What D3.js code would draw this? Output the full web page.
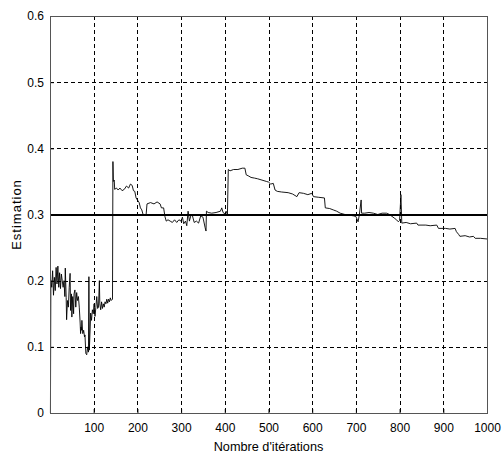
<!DOCTYPE html>
<html>
<head>
<meta charset="utf-8">
<script src="https://cdn.jsdelivr.net/npm/d3@7"></script>
<style>
  body { margin: 0; background: #fff; }
  text { font-family: "Liberation Sans", Arial, sans-serif; fill: #000; }
</style>
</head>
<body>
<div id="container"></div>
<script>
const width = 502;
const height = 457;
const margin = { t: 16, r: 15, b: 44, l: 50 };

// values
const iterations = [
  1, 2, 4, 6, 8, 10, 12, 14, 16, 18, 20, 22, 24, 26, 28, 30, 32, 34, 35, 37,
  38, 40, 42, 44, 46, 47, 49, 50, 52, 54, 55, 57, 59, 61, 63, 65, 67, 69, 70, 71,
  72, 73, 75, 77, 79, 80, 82, 84, 86, 88, 89, 90, 92, 93, 95, 97, 99, 101, 103, 105,
  107, 109, 111, 113, 114, 116, 118, 120, 122, 124, 126, 128, 130, 132, 134, 136, 138, 140, 143, 144,
  145, 147, 148, 152, 156, 160, 165, 170, 175, 180, 184, 188, 191, 194, 197, 200, 204, 207, 210, 213,
  220, 222, 230, 238, 245, 252, 255, 260, 263, 266, 270, 275, 280, 285, 290, 295, 300, 303, 306, 310,
  313, 316, 319, 323, 326, 330, 335, 340, 345, 350, 355, 357, 358, 362, 370, 380, 390, 393, 396, 400,
  403, 406, 408, 412, 420, 430, 440, 446, 449, 455, 460, 468, 475, 485, 495, 500, 505, 511, 515, 520,
  530, 545, 555, 565, 570, 580, 590, 599, 603, 615, 628, 630, 640, 648, 656, 664, 675, 685, 694, 700,
  705, 708, 712, 713, 720, 730, 740, 750, 760, 770, 777, 785, 789, 793, 797, 800, 803, 805, 815, 825,
  839, 842, 860, 870, 885, 889, 905, 915, 927, 930, 935, 938, 950, 960, 969, 973, 985, 1000
];
const estimates = [
  0, 0.2, 0.19, 0.215, 0.178, 0.205, 0.185, 0.22, 0.195, 0.222, 0.19, 0.212, 0.188, 0.21, 0.2, 0.19, 0.2, 0.176, 0.219, 0.175,
  0.141, 0.17, 0.16, 0.19, 0.211, 0.155, 0.18, 0.145, 0.176, 0.15, 0.18, 0.186, 0.16, 0.182, 0.17, 0.176, 0.16, 0.136, 0.12, 0.13,
  0.125, 0.14, 0.12, 0.125, 0.115, 0.118, 0.09, 0.088, 0.1, 0.092, 0.206, 0.095, 0.13, 0.151, 0.14, 0.156, 0.15, 0.165, 0.146, 0.16,
  0.176, 0.158, 0.16, 0.2, 0.165, 0.156, 0.168, 0.158, 0.165, 0.16, 0.168, 0.165, 0.172, 0.166, 0.172, 0.168, 0.174, 0.17, 0.172, 0.38,
  0.35, 0.352, 0.338, 0.34, 0.337, 0.34, 0.336, 0.338, 0.343, 0.34, 0.346, 0.344, 0.336, 0.335, 0.325, 0.322, 0.318, 0.31, 0.307, 0.3,
  0.3, 0.316, 0.318, 0.316, 0.319, 0.316, 0.31, 0.31, 0.297, 0.29, 0.292, 0.29, 0.288, 0.292, 0.288, 0.292, 0.29, 0.296, 0.286, 0.29,
  0.283, 0.305, 0.29, 0.3, 0.298, 0.288, 0.29, 0.287, 0.298, 0.296, 0.28, 0.275, 0.305, 0.303, 0.302, 0.303, 0.305, 0.31, 0.303, 0.301,
  0.305, 0.3, 0.368, 0.366, 0.368, 0.368, 0.37, 0.37, 0.36, 0.358, 0.356, 0.355, 0.354, 0.352, 0.35, 0.349, 0.346, 0.347, 0.337, 0.335,
  0.334, 0.333, 0.331, 0.327, 0.333, 0.332, 0.33, 0.332, 0.327, 0.326, 0.325, 0.31, 0.309, 0.307, 0.305, 0.302, 0.3, 0.299, 0.298, 0.297,
  0.289, 0.3, 0.322, 0.302, 0.302, 0.303, 0.302, 0.3, 0.302, 0.302, 0.3, 0.296, 0.294, 0.292, 0.289, 0.291, 0.33, 0.287, 0.288, 0.286,
  0.287, 0.284, 0.284, 0.283, 0.284, 0.279, 0.279, 0.278, 0.279, 0.274, 0.27, 0.267, 0.268, 0.266, 0.267, 0.264, 0.264, 0.263
];
const trueValue = 0.3;
const xTicks = [100, 200, 300, 400, 500, 600, 700, 800, 900, 1000];
const yTicks = [0, 0.1, 0.2, 0.3, 0.4, 0.5, 0.6];

const data = iterations.map((d, i) => [d, estimates[i]]);

const x = d3.scaleLinear().domain([0, 1000]).range([margin.l, width - margin.r]);
const y = d3.scaleLinear().domain([0, 0.6]).range([height - margin.b, margin.t]);

const svg = d3.select("#container")
  .append("svg")
  .attr("width", width)
  .attr("height", height);

// true value (drawn under the grid, like the reference)
svg.append("line")
  .attr("x1", x(0)).attr("x2", x(1000))
  .attr("y1", y(trueValue)).attr("y2", y(trueValue))
  .attr("stroke", "#000")
  .attr("stroke-width", 2)
  .attr("shape-rendering", "crispEdges");

// grid
svg.append("g")
  .selectAll("line")
  .data(xTicks.slice(0, -1))
  .join("line")
  .attr("x1", d => Math.round(x(d)) + 0.5).attr("x2", d => Math.round(x(d)) + 0.5)
  .attr("y1", y(0.6)).attr("y2", y(0))
  .attr("stroke", "#000")
  .attr("stroke-dasharray", "4,3")
  .attr("shape-rendering", "crispEdges");

svg.append("g")
  .selectAll("line")
  .data(yTicks.slice(1, -1))
  .join("line")
  .attr("x1", x(0)).attr("x2", x(1000))
  .attr("y1", d => Math.round(y(d)) + 0.5).attr("y2", d => Math.round(y(d)) + 0.5)
  .attr("stroke", "#000")
  .attr("stroke-dasharray", "4,3")
  .attr("shape-rendering", "crispEdges");

// estimation
svg.append("path")
  .datum(data)
  .attr("fill", "none")
  .attr("stroke", "#000")
  .attr("stroke-width", 0.9)
  .attr("d", d3.line().x(d => x(d[0])).y(d => y(d[1])));

// axes
const xAxis = svg.append("g")
  .attr("transform", `translate(0,${y(0)})`)
  .call(d3.axisBottom(x).tickValues(xTicks).tickSize(-4).tickPadding(10).tickFormat(d3.format("d")));
const yAxis = svg.append("g")
  .attr("transform", `translate(${x(0)},0)`)
  .call(d3.axisLeft(y).tickValues(yTicks).tickSize(-4).tickPadding(6).tickFormat(d => d === 0 ? "0" : d3.format(".1f")(d)));

[xAxis, yAxis].forEach(a => {
  a.select(".domain").remove();
  a.selectAll(".tick line").attr("stroke", "#000");
  a.selectAll("text").attr("font-size", "12px").attr("font-family", "Liberation Sans, Arial, sans-serif");
});

// box
svg.append("rect")
  .attr("x", Math.round(x(0)) + 0.5).attr("y", Math.round(y(0.6)) + 0.5)
  .attr("width", Math.round(x(1000) - x(0)))
  .attr("height", Math.round(y(0) - y(0.6)))
  .attr("fill", "none")
  .attr("stroke", "#555")
  .attr("stroke-width", 1);

svg.append("text")
  .attr("x", (x(0) + x(1000)) / 2)
  .attr("y", 451)
  .attr("text-anchor", "middle")
  .attr("font-size", "12.7px")
  .text("Nombre d'itérations");

svg.append("text")
  .attr("transform", `translate(20.5,${(y(0) + y(0.6)) / 2}) rotate(-90)`)
  .attr("text-anchor", "middle")
  .attr("font-size", "13px")
  .attr("letter-spacing", "1px")
  .text("Estimation");
</script>
</body>
</html>
